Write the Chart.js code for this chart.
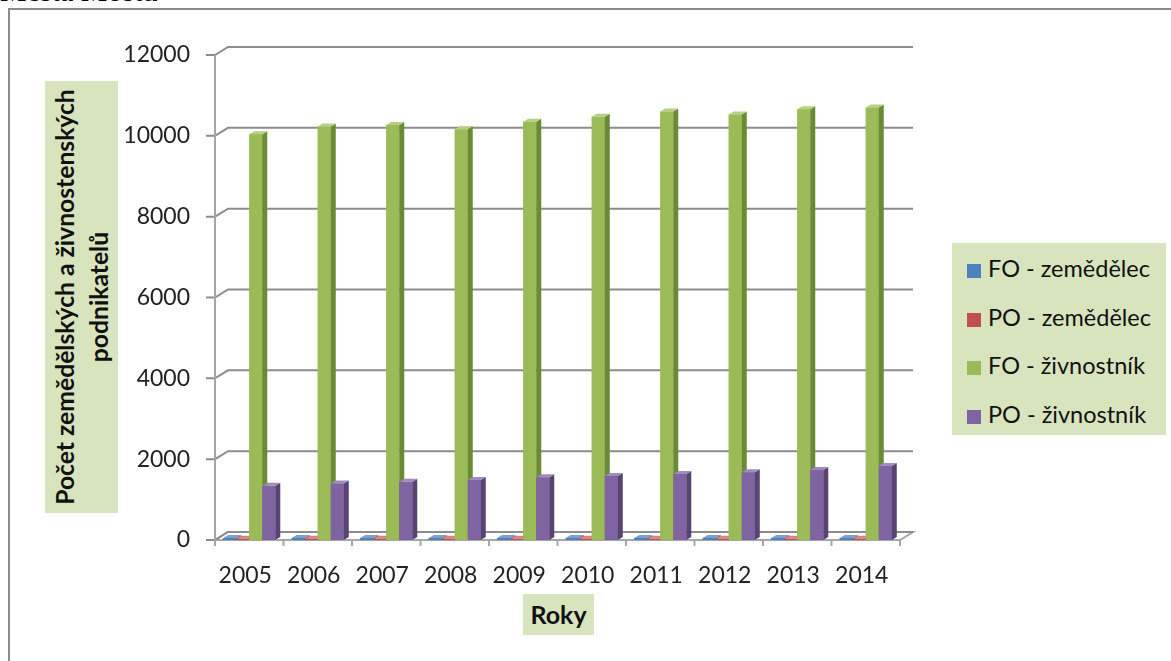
<!DOCTYPE html>
<html>
<head>
<meta charset="utf-8">
<script src="https://cdn.jsdelivr.net/npm/chart.js@4"></script>
<style>
    body { margin: 0; width: 1171px; height: 661px; overflow: hidden; background: #fff; position: relative; font-family: Lato, sans-serif; }
    #frame { position: absolute; left: 8px; top: 8px; width: 1300px; height: 800px; border-left: 2px solid #8a8a8a; border-top: 2px solid #8a8a8a; }
    #pageText { position: absolute; left: 0; top: -26px; font: 30px "Liberation Serif", serif; color: #000; white-space: nowrap; }
    #chart { position: absolute; left: 0; top: 0; }
    .box { position: absolute; background: #d7e4bd; color: #111; font-weight: bold; }
    #yTitle { left: 45px; top: 81px; width: 73px; height: 432px; }
    #yTitle div { position: absolute; left: 50%; top: 50%; transform: translate(-50%, -50%) rotate(-90deg); white-space: nowrap; text-align: center; font-size: 24.7px; line-height: 34px; }
    #xTitle { left: 523px; top: 594px; width: 71px; height: 41px; font-size: 25px; line-height: 41px; text-align: center; }
    #legend { position: absolute; left: 952px; top: 243px; width: 214px; height: 192px; background: #d7e4bd; }
    .item { position: absolute; left: 15px; height: 30px; font-size: 23.5px; line-height: 30px; color: #111; white-space: nowrap; }
    .item span { display: inline-block; width: 14px; height: 14px; margin-right: 7px; vertical-align: -1px; }
</style>
</head>
<body>
<div id="pageText">Města Mostu</div>
<div id="frame"></div>
<canvas id="chart" width="1171" height="661"></canvas>
<div class="box" id="yTitle"><div>Počet zemědělských a živnostenských<br>podnikatelů</div></div>
<div class="box" id="xTitle">Roky</div>
<div id="legend"></div>
<script>
const years = ['2005', '2006', '2007', '2008', '2009', '2010', '2011', '2012', '2013', '2014'];
const seriesNames = ['FO - zemědělec', 'PO - zemědělec', 'FO - živnostník', 'PO - živnostník'];
const foZemedelec = [50, 50, 50, 50, 50, 50, 50, 50, 50, 50];
const poZemedelec = [30, 30, 30, 30, 30, 30, 30, 30, 30, 30];
const foZivnostnik = [10040, 10230, 10270, 10160, 10350, 10470, 10600, 10530, 10660, 10700];
const poZivnostnik = [1340, 1400, 1440, 1485, 1550, 1585, 1635, 1675, 1730, 1830];
const yTicks = [0, 2000, 4000, 6000, 8000, 10000, 12000];

const colors = ['#4f81bd', '#c0504d', '#9bbb59', '#8064a2'];
const sideColors = ['#385d8a', '#8c3836', '#6b8a36', '#574472'];
const topColors = ['#7ba0cd', '#d48583', '#b5cf85', '#a08bbd'];

// legend
const legendEl = document.getElementById('legend');
seriesNames.forEach((name, i) => {
    const d = document.createElement('div');
    d.className = 'item';
    d.style.top = (10 + i * 48.5) + 'px';
    d.innerHTML = '<span style="background:' + colors[i] + '"></span>' + name;
    legendEl.appendChild(d);
});

const wall = { dx: 13, dy: 8 };
const bar3d = { dx: 5, dy: 3 };

const wallPlugin = {
    id: 'wall',
    beforeDatasetsDraw(chart) {
        const { ctx, chartArea: a, scales: { y } } = chart;
        const y0 = y.getPixelForValue(0);
        ctx.save();
        // floor
        ctx.fillStyle = '#ffffff';
        ctx.strokeStyle = '#a6a6a6';
        ctx.lineWidth = 2;
        ctx.beginPath();
        ctx.moveTo(a.left, y0);
        ctx.lineTo(a.right, y0);
        ctx.lineTo(a.right + wall.dx, y0 - wall.dy);
        ctx.lineTo(a.left + wall.dx, y0 - wall.dy);
        ctx.closePath();
        ctx.fill();
        ctx.stroke();
        // back wall grid + front ticks
        ctx.strokeStyle = '#8c8c8c';
        yTicks.forEach(v => {
            const yp = y.getPixelForValue(v);
            ctx.beginPath();
            ctx.moveTo(a.left - 9, yp);
            ctx.lineTo(a.left, yp);
            ctx.lineTo(a.left + wall.dx, yp - wall.dy);
            ctx.lineTo(a.right + wall.dx, yp - wall.dy);
            ctx.stroke();
        });
        // front y axis
        ctx.strokeStyle = '#a6a6a6';
        ctx.beginPath();
        ctx.moveTo(a.left, y.getPixelForValue(12000));
        ctx.lineTo(a.left, y0 + 6);
        ctx.stroke();
        // category ticks
        for (let i = 0; i <= years.length; i++) {
            const xp = a.left + (a.right - a.left) * i / years.length;
            ctx.beginPath();
            ctx.moveTo(xp, y0);
            ctx.lineTo(xp, y0 + 6);
            ctx.stroke();
        }
        ctx.restore();
    },
    afterDatasetsDraw(chart) {
        const ctx = chart.ctx;
        ctx.save();
        chart.data.datasets.forEach((ds, di) => {
            chart.getDatasetMeta(di).data.forEach(el => {
                const p = el.getProps(['x', 'y', 'base', 'width'], true);
                const l = p.x - p.width / 2, r = p.x + p.width / 2;
                ctx.fillStyle = colors[di];
                ctx.fillRect(l, p.y, p.width, p.base - p.y);
                ctx.fillStyle = sideColors[di];
                ctx.beginPath();
                ctx.moveTo(r, p.y);
                ctx.lineTo(r + bar3d.dx, p.y - bar3d.dy);
                ctx.lineTo(r + bar3d.dx, p.base - bar3d.dy);
                ctx.lineTo(r, p.base);
                ctx.closePath();
                ctx.fill();
                ctx.fillStyle = topColors[di];
                ctx.beginPath();
                ctx.moveTo(l, p.y);
                ctx.lineTo(r, p.y);
                ctx.lineTo(r + bar3d.dx, p.y - bar3d.dy);
                ctx.lineTo(l + bar3d.dx, p.y - bar3d.dy);
                ctx.closePath();
                ctx.fill();
            });
        });
        ctx.restore();
    }
};

new Chart(document.getElementById('chart'), {
    type: 'bar',
    data: {
        labels: years,
        datasets: [foZemedelec, poZemedelec, foZivnostnik, poZivnostnik].map((d, i) => ({
            label: seriesNames[i],
            data: d,
            backgroundColor: colors[i],
            categoryPercentage: 0.76,
            barPercentage: 1.0
        }))
    },
    options: {
        responsive: false,
        animation: false,
        devicePixelRatio: 1,
        layout: { padding: { left: 0, top: 55, right: 271, bottom: 0 } },
        plugins: { legend: { display: false }, tooltip: { enabled: false } },
        scales: {
            x: {
                grid: { display: false, drawTicks: false },
                border: { display: false },
                ticks: { font: { family: 'Lato', size: 23 }, color: '#222', padding: 22, labelOffset: -4, maxRotation: 0 },
                afterFit: s => { s.height = 121; }
            },
            y: {
                min: 0,
                max: 12000,
                grid: { display: false, drawTicks: false },
                border: { display: false },
                ticks: { stepSize: 2000, font: { family: 'Lato', size: 23 }, color: '#222', padding: 25, callback: v => String(v) },
                afterFit: s => { s.width = 215; }
            }
        }
    },
    plugins: [wallPlugin]
});
</script>
</body>
</html>
